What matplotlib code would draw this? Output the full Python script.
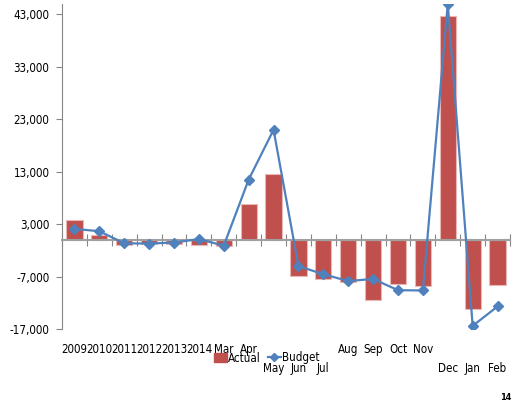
import numpy as np
import matplotlib
matplotlib.use("Agg")
import matplotlib.pyplot as plt
from matplotlib import transforms, font_manager
from matplotlib.patches import Patch
from matplotlib.lines import Line2D

categories = ["2009", "2010", "2011", "2012", "2013", "2014", "Mar", "Apr", "May",
              "Jun", "Jul", "Aug", "Sep", "Oct", "Nov", "Dec", "Jan", "Feb"]
actual = [3800, 900, -950, -850, -850, -950, -1150, 6800, 12600,
          -6800, -7450, -8000, -11500, -8450, -8800, 42800, -13100, -8600]
budget = [2100, 1650, -650, -700, -500, 150, -1100, 11500, 21000,
          -5000, -6550, -7850, -7450, -9600, -9650, 45000, -16400, -12700]
yticks = [-17000, -7000, 3000, 13000, 23000, 33000, 43000]

# pick a narrow face if one is around
names = {f.name for f in font_manager.fontManager.ttflist}
stretched = {(f.name, f.stretch) for f in font_manager.fontManager.ttflist}
if "Liberation Sans Narrow" in names:
    plt.rcParams['font.family'] = ['Liberation Sans Narrow', 'DejaVu Sans']
    fs = 9.5
elif ("DejaVu Sans", "condensed") in stretched or ("DejaVu Sans", 700) in stretched:
    plt.rcParams['font.family'] = ['DejaVu Sans']
    plt.rcParams['font.stretch'] = 'condensed'
    fs = 8.3
else:
    plt.rcParams['font.family'] = ['Roboto', 'DejaVu Sans']
    fs = 8.0

red = "#C0504D"
blue = "#4F81BD"
grey = "#868686"

fig = plt.figure(figsize=(5.2, 4.09), dpi=100)
ax = fig.add_axes([62 / 520, 80 / 409, 448 / 520, 325 / 409])

x = np.arange(len(categories))
ax.bar(x, actual, width=0.65, color=red, edgecolor="#E8B7B6", linewidth=0.8, zorder=2)
ax.plot(x, budget, color=blue, linewidth=1.6, marker="D", markersize=5,
        markerfacecolor=blue, markeredgecolor=blue, zorder=3)

ax.set_xlim(-0.5, len(categories) - 0.5)
ax.set_ylim(-17000, 45000)
ax.set_yticks(yticks)
ax.set_yticklabels([f"{v:,}" for v in yticks], fontsize=fs)
ax.tick_params(axis="y", direction="out", length=4, width=0.8, color=grey, pad=5)

# category axis sits on zero with tick marks between the categories
ax.spines["bottom"].set_position(("data", 0))
ax.spines["bottom"].set_color("#A0A0A0")
ax.spines["bottom"].set_linewidth(1.5)
ax.spines["left"].set_color(grey)
ax.spines["left"].set_linewidth(0.8)
ax.spines["top"].set_visible(False)
ax.spines["right"].set_visible(False)
ax.set_xticks(np.arange(len(categories) + 1) - 0.5)
ax.set_xticklabels([])
ax.tick_params(axis="x", direction="inout", length=8, width=0.8, color=grey)

# staggered category labels below the plot
trans = transforms.blended_transform_factory(ax.transData, ax.transAxes)
label_row = [0, 0, 0, 0, 0, 0, 0, 0, 1, 1, 1, 0, 0, 0, 0, 1, 1, 1]
for i, (lab, row) in enumerate(zip(categories, label_row)):
    ax.text(i, -0.063 - 0.058 * row, lab, transform=trans, ha="center", va="center",
            fontsize=fs)

handles = [Patch(facecolor=red, edgecolor=red),
           Line2D([0], [0], color=blue, linewidth=1.6, marker="D", markersize=4)]
fig.legend(handles, ["Actual", "Budget"], loc="center", bbox_to_anchor=(267 / 520, 1 - 358 / 409),
           ncol=2, frameon=False, fontsize=fs, handlelength=1.1, handleheight=0.8,
           handletextpad=0.15, columnspacing=0.6, borderpad=0)

fig.text(506 / 520, 1 - 398 / 409, "14", ha="center", va="center", fontsize=6.5, fontweight="bold")

fig.savefig("out.png", dpi=100)
